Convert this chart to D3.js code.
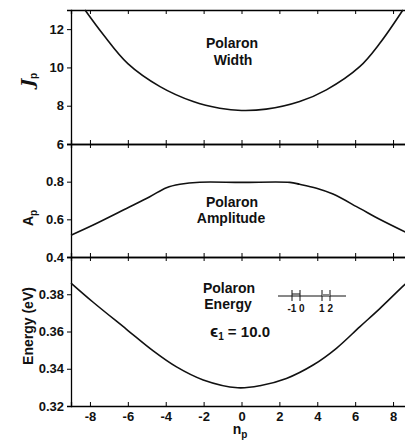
<!DOCTYPE html>
<html>
<head>
<meta charset="utf-8">
<script src="https://cdn.jsdelivr.net/npm/d3@7"></script>
<style>
  body { margin:0; background:#fff; }
  svg text { font-family:"Liberation Sans", Arial, sans-serif; font-weight:bold; fill:#111; }
</style>
</head>
<body>
<svg></svg>
<script>
// data
var widthN   = [-8.26, -7.3, -6.0, -4.3, -2.55, -1.15, 0, 1.3, 3.07, 4.48, 6.24, 7.3, 8.52];
var widthV   = [13.0, 11.72, 10.2, 9.0, 8.22, 7.87, 7.75, 7.82, 8.22, 8.83, 10.04, 11.26, 13.0];

var ampN     = [-9, -7.83, -6.07, -4.84, -3.96, -3.25, -2.2, 0, 2.55, 3.07, 3.96, 4.83, 6.24, 7.29, 9];
var ampV     = [0.516, 0.57, 0.658, 0.72, 0.768, 0.786, 0.797, 0.796, 0.796, 0.786, 0.765, 0.734, 0.658, 0.6, 0.515];

var energyN  = [-9, -7.83, -6.07, -4.66, -3.43, -2.02, -0.2, 0.97, 2.37, 3.78, 5.01, 6.24, 7.3, 8.6, 9];
var energyV  = [0.386, 0.3757, 0.3612, 0.3496, 0.341, 0.334, 0.3298, 0.3309, 0.3348, 0.342, 0.351, 0.3625, 0.3723, 0.385, 0.3885];

var xTicks   = [-8, -6, -4, -2, 0, 2, 4, 6, 8];
var widthTicks  = [6, 8, 10, 12];
var ampTicks    = [0.4, 0.6, 0.8];
var energyTicks = [0.32, 0.34, 0.36, 0.38];

var W = 405, H = 445;
var svg = d3.select("svg").attr("width", W).attr("height", H);

var x = d3.scaleLinear().domain([-9, 9]).range([71, 412]);

// panels: domain, pixel range, ticks, format
var panels = [
  {dom:[6, 13],     rng:[144, 10],  ticks:widthTicks,  fmt:d3.format("d"),    n:widthN,  v:widthV},
  {dom:[0.4, 1.0],  rng:[257, 144], ticks:ampTicks,    fmt:d3.format(".1f"),  n:ampN,    v:ampV},
  {dom:[0.32, 0.40],rng:[406, 257], ticks:energyTicks, fmt:d3.format(".2f"),  n:energyN, v:energyV}
];

panels.forEach(function(p){
  var y = d3.scaleLinear().domain(p.dom).range(p.rng);
  p.y = y;

  // left axis
  svg.append("g")
    .attr("transform", "translate(71,0)")
    .call(d3.axisLeft(y).tickValues(p.ticks).tickFormat(p.fmt).tickSize(4).tickPadding(3))
    .call(function(g){
      g.select(".domain").attr("stroke-width", 1.3);
      g.selectAll("text").style("font-size", "13px").attr("font-family", "Liberation Sans").attr("font-weight", "bold");
      g.selectAll("line").attr("stroke-width", 1);
    });

  // inward x ticks on top and bottom of each panel
  svg.append("g")
    .attr("transform", "translate(0," + p.rng[1] + ")")
    .call(d3.axisBottom(x).tickValues(xTicks).tickSize(4).tickFormat(""))
    .call(function(g){ g.select(".domain").attr("stroke-width", 1.3); g.selectAll("line").attr("stroke-width", 1); });
  svg.append("g")
    .attr("transform", "translate(0," + p.rng[0] + ")")
    .call(d3.axisTop(x).tickValues(xTicks).tickSize(4).tickFormat(""))
    .call(function(g){ g.select(".domain").attr("stroke-width", 1.3); g.selectAll("line").attr("stroke-width", 1); });

  // curve
  var pts = p.n.map(function(n, i){ return [n, p.v[i]]; });
  svg.append("path")
    .datum(pts)
    .attr("fill", "none")
    .attr("stroke", "#111")
    .attr("stroke-width", 1.6)
    .attr("d", d3.line().curve(d3.curveCatmullRom.alpha(0.5))
      .x(function(d){ return x(d[0]); })
      .y(function(d){ return y(d[1]); }));
});

// bottom tick labels
svg.append("g")
  .attr("transform", "translate(0,406)")
  .call(d3.axisBottom(x).tickValues(xTicks).tickSize(0).tickPadding(6).tickFormat(d3.format("d")))
  .call(function(g){
    g.select(".domain").remove();
    g.selectAll("text").style("font-size", "13px").attr("font-family", "Liberation Sans").attr("font-weight", "bold")
      .text(function(d){ return d < 0 ? "-" + Math.abs(d) : d; });
  });

// in-plot labels
function label(txt, cx, by, size){
  svg.append("text").attr("x", cx).attr("y", by).attr("text-anchor", "middle")
    .style("font-size", size + "px").text(txt);
}
label("Polaron", 232, 48, 14);
label("Width", 233, 65, 14);
label("Polaron", 232, 207, 14);
label("Amplitude", 231, 223, 14);
label("Polaron", 229, 293, 14);
label("Energy", 228, 309, 14);

var eps = svg.append("text").attr("x", 210).attr("y", 337).style("font-size", "15px");
eps.append("tspan").style("font-size", "17px").text("\u03F5");
eps.append("tspan").attr("dy", 3).style("font-size", "10px").text("1");
eps.append("tspan").attr("dy", -3).text(" = 10.0");

// small lattice inset
var inset = svg.append("g").attr("stroke", "#111").attr("stroke-width", 1);
inset.append("line").attr("x1", 278).attr("x2", 346).attr("y1", 296).attr("y2", 296);
[292, 300, 322, 330].forEach(function(px){
  inset.append("line").attr("x1", px).attr("x2", px).attr("y1", 290).attr("y2", 301);
});
inset.append("line").attr("x1", 292).attr("x2", 300).attr("y1", 294).attr("y2", 294);
inset.append("rect").attr("x", 322).attr("y", 294).attr("width", 8).attr("height", 2).attr("fill", "#888").attr("stroke", "none");
svg.append("text").attr("x", 296).attr("y", 312).attr("text-anchor", "middle").style("font-size", "10px").text("-1 0");
svg.append("text").attr("x", 326).attr("y", 312).attr("text-anchor", "middle").style("font-size", "10px").text("1 2");

// axis titles
var jt = svg.append("text").attr("transform", "translate(33,80) rotate(-90)").attr("text-anchor", "middle");
jt.append("tspan").style("font-family", "DejaVu Serif").style("font-style", "italic").style("font-size", "17px").text("J");
jt.append("tspan").attr("dy", 4).style("font-size", "10px").text("p");

var at = svg.append("text").attr("transform", "translate(33,218) rotate(-90)").attr("text-anchor", "middle");
at.append("tspan").style("font-size", "14px").text("A");
at.append("tspan").attr("dy", 4).style("font-size", "10px").text("p");

svg.append("text").attr("transform", "translate(33,326) rotate(-90)").attr("text-anchor", "middle")
  .style("font-size", "14px").text("Energy (eV)");

var nt = svg.append("text").attr("x", 240).attr("y", 434).attr("text-anchor", "middle");
nt.append("tspan").style("font-size", "14px").text("n");
nt.append("tspan").attr("dy", 4).style("font-size", "10px").text("p");
</script>
</body>
</html>
